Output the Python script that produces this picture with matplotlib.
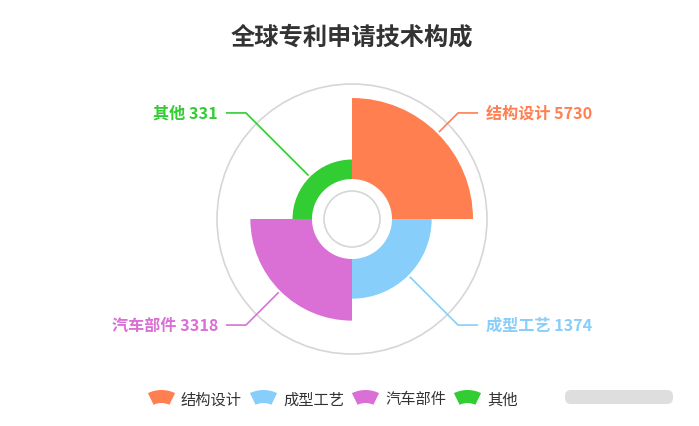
import matplotlib.pyplot as plt
import numpy as np
from matplotlib.patches import Wedge, Circle, FancyBboxPatch

plt.rcParams['font.family'] = ['Noto Sans CJK SC', 'DejaVu Sans']

title = '全球专利申请技术构成'
names = ['结构设计', '成型工艺', '汽车部件', '其他']
values = [5730, 1374, 3318, 331]
colors = ['#ff7f50', '#87cefa', '#da70d6', '#32cd32']

W, H = 699, 427
fig = plt.figure(figsize=(W / 100, H / 100), dpi=100)
ax = fig.add_axes([0, 0, 1, 1])
ax.set_xlim(0, W)
ax.set_ylim(0, H)
ax.set_aspect('equal')
ax.axis('off')

# chart geometry (pixels, y up)
cx, cy = 352, H - 220
r0 = 40
r_max = 121
k = (r_max - r0) / np.sqrt(max(values))

# background rings
ax.add_patch(Circle((cx, cy), 135, fill=False, ec='#d6d6d6', lw=1.2))
ax.add_patch(Circle((cx, cy), 28, fill=False, ec='#d6d6d6', lw=1.2))

step = 360 / len(values)
for i, (name, v, c) in enumerate(zip(names, values, colors)):
    t2 = 90 - i * step
    t1 = t2 - step
    r = r0 + k * np.sqrt(v)
    ax.add_patch(Wedge((cx, cy), r, t1, t2, width=r - r0, fc=c, ec='none'))

    # label line
    mid = np.radians((t1 + t2) / 2)
    x0, y0 = cx + (r + 2) * np.cos(mid), cy + (r + 2) * np.sin(mid)
    x1, y1 = cx + 150 * np.cos(mid), cy + 150 * np.sin(mid)
    side = 1 if np.cos(mid) > 0 else -1
    x2 = x1 + side * 20
    ax.plot([x0, x1, x2], [y0, y1, y1], color=c, lw=1.2, solid_capstyle='butt')
    ax.text(x2 + side * 8, y1, f'{name} {v}', color=c, fontsize=11.6,
            fontweight='bold', ha='left' if side > 0 else 'right', va='center')

ax.text(cx, H - 38, title, fontsize=17.5, fontweight='bold', color='#333333',
        ha='center', va='center')

# legend
fig.canvas.draw()
renderer = fig.canvas.get_renderer()
lx, ly = 148, H - 400
for name, c in zip(names, colors):
    icx = lx + 13.5
    ax.add_patch(Wedge((icx, ly - 22), 31, 64, 116, width=13, fc=c, ec='none'))
    t = ax.text(lx + 33, ly, name, fontsize=11, color='#333333',
                ha='left', va='center')
    bb = t.get_window_extent(renderer)
    lx = bb.x1 + 8

# blurred watermark block
ax.add_patch(FancyBboxPatch((565, H - 405), 108, 14,
                            boxstyle='round,pad=0,rounding_size=6',
                            fc='#dedede', ec='none'))

fig.savefig('out.png', dpi=100)
